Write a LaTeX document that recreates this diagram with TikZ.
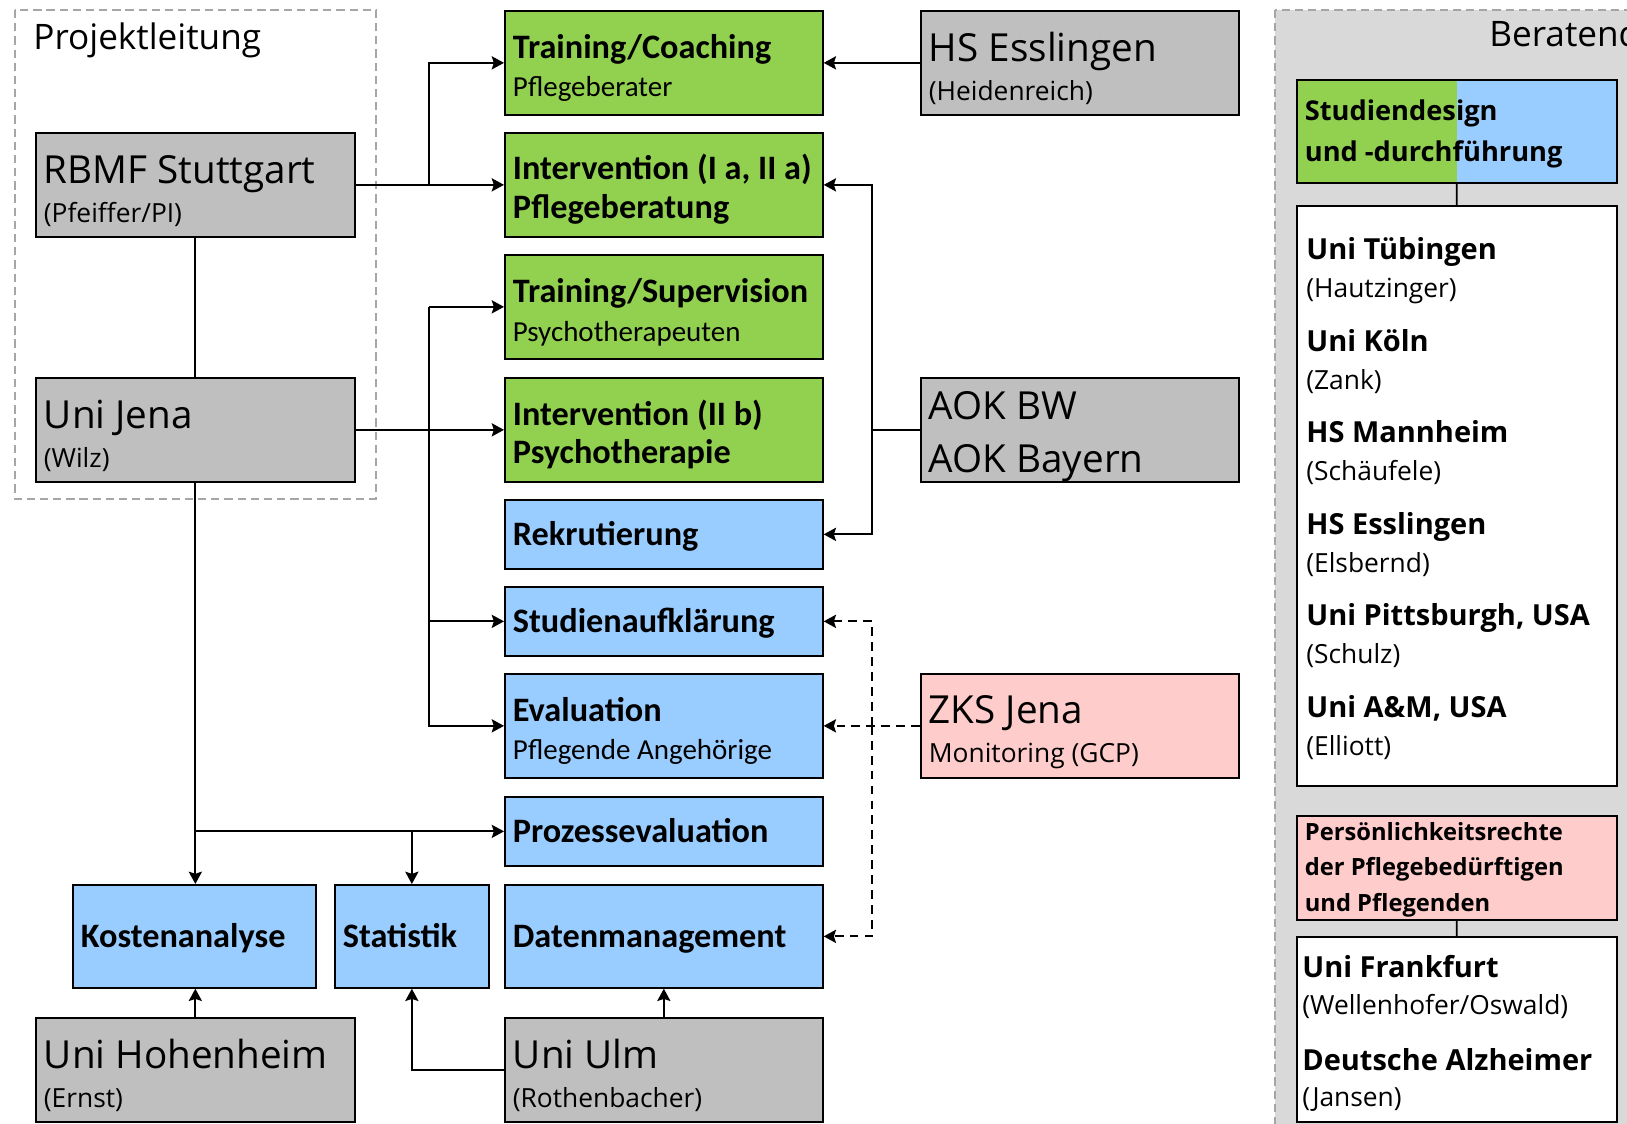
\documentclass[tikz,border=0pt]{standalone}
\usepackage{fontspec}
\setmainfont{Carlito}
\newfontfamily\osans{Open Sans}
\usepackage{tikz}
\usetikzlibrary{arrows.meta,positioning,calc}

\definecolor{taskgreen}{HTML}{92D050}
\definecolor{partblue}{HTML}{99CCFF}
\definecolor{orggray}{HTML}{BFBFBF}
\definecolor{monpink}{HTML}{FFCCCC}
\definecolor{panelgray}{HTML}{D9D9D9}
\definecolor{dashgray}{HTML}{A6A6A6}

\newcommand\orgfont{\osans\fontsize{22}{22}\selectfont}
\newcommand\subfont{\osans\fontsize{15}{17}\selectfont}
\newcommand\taskfont{\bfseries\fontsize{19.5}{22}\selectfont}
\newcommand\notefont{\mdseries\fontsize{16.5}{18}\selectfont}
\newcommand\memfont{\osans\bfseries\fontsize{16.5}{18}\selectfont}

\begin{document}
\begin{tikzpicture}[
    x=0.02cm, y=-0.02cm,
    >={Stealth[length=7pt,width=7.5pt,inset=1.2pt]},
    box/.style={draw=black, line width=1pt, anchor=north west, inner xsep=0.16cm, inner ysep=0pt, align=left,
      execute at begin node={\spaceskip=0pt\xspaceskip=0pt}},
    oneline/.style={text height=16.8pt, text depth=3.7pt},
    twoline/.style={text height=19.6pt},
    org/.style={box, fill=orggray, font=\orgfont, text width=6.06cm, minimum height=2.08cm, text height=23.3pt},
    task/.style={box, twoline, fill=taskgreen, font=\taskfont, text width=6.04cm, minimum height=2.08cm},
    part/.style={box, fill=partblue, font=\taskfont, text width=6.04cm, minimum height=1.38cm},
    panelbox/.style={box, minimum width=6.4cm, text width=6.08cm},
    group/.style={draw=dashgray, line width=0.8pt, dash pattern=on 4.7pt off 2.8pt},
    link/.style={->, line width=1.1pt},
    monitor/.style={link, dash pattern=on 5pt off 3.5pt},
    member/.style={anchor=base west, inner sep=0pt}
]
\path[use as bounding box] (0,0) rectangle (1627,1124);
\clip (0,0) rectangle (1627,1124);

% groups
\draw[group] (15,10) rectangle (376,499);
\node[member, font=\osans\fontsize{20}{20}\selectfont] (plabel) at (33,50) {Projektleitung};
\draw[group, fill=panelgray] (1275,10) rectangle (1700,1200);
\node[member, font=\osans\fontsize{20}{20}\selectfont] (blabel) at (1489,47) {Beratend};

% partners
\node[org] (rbmf) at (35,132) {RBMF Stuttgart\\{\subfont (Pfeiffer/PI)}};
\node[org] (jena) at (35,377) {Uni Jena\\{\subfont (Wilz)}};
\node[org] (hohen) at (35,1017) {Uni Hohenheim\\{\subfont (Ernst)}};
\node[org, text width=6.04cm] (ulm) at (504,1017) {Uni Ulm\\{\subfont (Rothenbacher)}};
\node[org, text width=6.04cm] (hse) at (920,10) {HS Esslingen\\{\subfont (Heidenreich)}};
\node[org, text width=6.04cm] (aok) at (920,377) {AOK BW\\[8pt]AOK Bayern};
\node[org, text width=6.04cm, fill=monpink] (zks) at (920,673) {ZKS Jena\\{\subfont Monitoring (GCP)}};

% tasks
\node[task] (coach) at (504,10) {Training/Coaching\\{\notefont Pflegeberater}};
\node[task] (beratung) at (504,132) {Intervention (I a, II a)\\Pflegeberatung};
\node[task] (superv) at (504,254) {Training/Supervision\\{\notefont Psychotherapeuten}};
\node[task] (therapie) at (504,377) {Intervention (II b)\\Psychotherapie};
\node[part, oneline] (rekrut) at (504,499) {Rekrutierung};
\node[part, oneline] (aufkl) at (504,586) {Studienaufklärung};
\node[part, twoline, minimum height=2.08cm] (eval) at (504,673) {Evaluation\\{\notefont Pflegende Angehörige}};
\node[part, oneline] (prozess) at (504,796) {Prozessevaluation};
\node[part, oneline, minimum height=2.06cm] (daten) at (504,884) {Datenmanagement};
\node[part, oneline, minimum height=2.06cm, text width=4.54cm] (kosten) at (72,884) {Kostenanalyse};
\node[part, oneline, minimum height=2.06cm, text width=2.76cm] (stat) at (334,884) {Statistik};

% links
\coordinate (busL) at (429,0);
\coordinate (busR) at (872,0);
\draw[link] (rbmf.east) -- (beratung.west);
\draw[link] (rbmf.east -| busL) |- (coach.west);
\draw[line width=1.1pt] (rbmf.south) -- (jena.north);
\draw[link] (jena.east) -- (therapie.west);
\draw[link] (busL |- superv.west) -- (superv.west);
\draw[link] (busL |- superv.west) |- (aufkl.west);
\draw[link] (busL |- superv.west) |- (eval.west);
\draw[link] (jena.south) -- (jena.south |- kosten.north);
\draw[link] (jena.south |- prozess.west) -- (prozess.west);
\draw[link] (stat.north |- prozess.west) -- (stat.north);
\draw[link] (hohen.north) -- (hohen.north |- kosten.south);
\draw[link] (ulm.north) -- (daten.south);
\draw[link] (ulm.west) -| (stat.south);
\draw[link] (hse.west) -- (coach.east);
\draw[link] (aok.west) -- (aok.west -| busR) |- (beratung.east);
\draw[link] (aok.west -| busR) |- (rekrut.east);
\draw[monitor] (zks.west) -- (eval.east);
\draw[monitor] (zks.west -| busR) |- (aufkl.east);
\draw[monitor] (zks.west -| busR) |- (daten.east);

% advisory board
\node[panelbox, fill=partblue, minimum height=2.06cm, text height=14.8pt, font=\osans\bfseries\fontsize{15.5}{23}\selectfont,
  path picture={\fill[taskgreen] (path picture bounding box.north west) rectangle (path picture bounding box.south);}]
  (design) at (1296,79) {Studiendesign\\und -durchführung};
\node[box, fill=white, minimum width=6.4cm, minimum height=11.6cm] (list) at (1296,205) {};
\draw[line width=1pt] (design.south) -- (list.north);
\foreach \uni/\who [count=\i] in {Uni Tübingen/Hautzinger, Uni Köln/Zank, HS Mannheim/Schäufele, HS Esslingen/Elsbernd, {Uni Pittsburgh, USA}/Schulz, {Uni A\&M, USA}/Elliott}{
  \node[member, font=\memfont] (uni\i) at (1306,{260+91.5*(\i-1)}) {\uni};
  \node[member, font=\subfont] (who\i) at (1306,{298+91.5*(\i-1)}) {(\who)};
}
\node[panelbox, fill=monpink, minimum height=2.08cm, text height=12.5pt, font=\osans\bfseries\fontsize{13.5}{20}\selectfont]
  (rechte) at (1296,815) {Persönlichkeitsrechte\\der Pflegebedürftigen\\und Pflegenden};
\node[box, fill=white, minimum width=6.4cm, minimum height=3.7cm] (frank) at (1296,936) {};
\draw[line width=1pt] (rechte.south) -- (frank.north);
\node[member, font=\memfont] (uni7) at (1302,977) {Uni Frankfurt};
\node[member, font=\subfont] (who7) at (1302,1014) {(Wellenhofer/Oswald)};
\node[member, font=\memfont] (uni8) at (1302,1070) {Deutsche Alzheimer};
\node[member, font=\subfont] (who8) at (1302,1106) {(Jansen)};
\end{tikzpicture}
\end{document}
